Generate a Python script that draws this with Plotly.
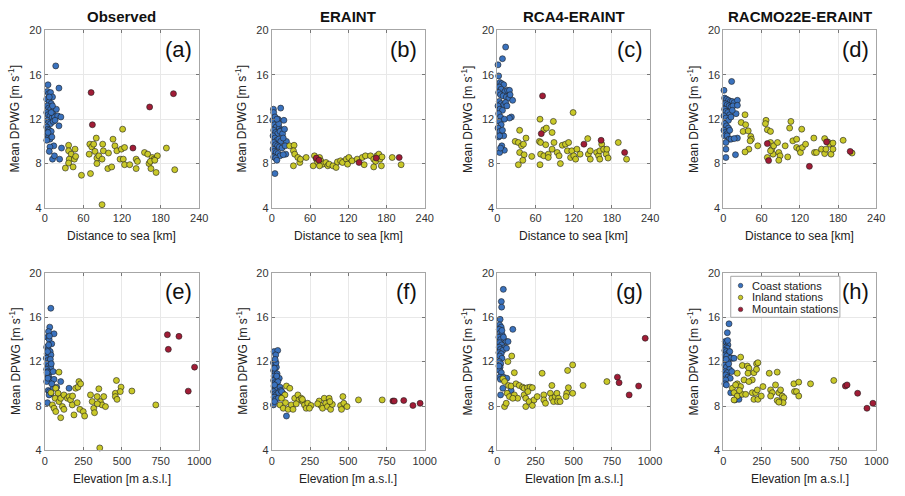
import plotly.graph_objects as go

# ---------------- data (x, y) pairs ----------------
# Top row: distance to sea [km]; bottom row: elevation [m a.s.l.]
a_coast = [(5,15.1),(17,16.8),(22,14.8),(4,14.5),(6,14.3),(9,14.4),(12,14.0),(3,13.8),(7,13.6),(10,13.4),
           (4,13.2),(6,13.0),(9,12.9),(13,12.7),(18,12.9),(3,12.6),(5,12.4),(8,12.3),(11,12.1),(15,12.2),
           (20,12.3),(25,12.2),(4,11.9),(6,11.7),(9,11.6),(13,11.8),(3,11.3),(5,11.1),(7,11.0),(10,10.9),
           (22,11.4),(4,10.6),(6,10.4),(8,10.2),(11,10.4),(3,10.1),(5,10.8),(14,9.6),(8,9.5),(7,9.1),
           (12,8.4),(15,8.7),(23,8.4),(26,9.4),(10,12.6),(16,11.9),(12,13.2),(7,14.0)]
a_inland = [(32,7.6),(37,9.65),(37,9.15),(41,8.85),(47,9.3),(38,8.4),(37,8.05),(46,8.4),(48,8.65),(44,7.7),
            (57,6.95),(69,8.85),(70,9.75),(73,9.5),(76,9.75),(80,10.3),(78,9.1),(81,8.5),(84,8.7),(81,8.0),
            (71,7.1),(90,9.75),(91,9.15),(89,8.4),(99,8.95),(98,7.55),(104,7.7),(106,10.2),(109,9.6),(112,9.15),
            (117,8.4),(119,9.3),(121,11.1),(122,8.4),(124,9.45),(124,7.9),(132,7.9),(142,8.4),(144,8.2),(142,7.55),
            (155,9.0),(160,8.85),(162,8.0),(165,7.55),(167,8.55),(170,8.4),(173,7.2),(175,8.7),(189,9.4),(202,7.45),
            (89,4.3),(164,8.2),(171,8.3)]
a_mount = [(72,14.4),(74,11.5),(137,9.4),(163,13.1),(200,14.3)]

b_coast = [(2.6,12.9),(3,12.6),(14,13.0),(1.5,11.9),(10,12.0),(19,11.9),(4,11.5),(7,11.3),(12,11.2),(15,11.0),
           (3,11.0),(6,10.8),(9,10.7),(13,10.9),(17,10.7),(2,10.5),(5,10.3),(8,10.1),(11,10.2),(14,10.0),
           (3,9.9),(6,9.7),(9,9.6),(12,9.5),(16,9.4),(2,9.3),(4,9.1),(7,9.0),(10,8.9),(13,8.7),
           (3,8.6),(6,8.5),(8,8.3),(23,10.0),(21,9.6),(22,8.85),(18,8.8),(5,7.1),(20,11.1),(18,10.3),
           (11,11.6),(5,12.2),(8,12.0)]
b_inland = [(28,9.6),(35,9.65),(34,9.15),(36,8.85),(34,7.8),(41,8.55),(44,8.1),(45,8.4),(54,8.55),(67,8.7),
            (70,8.4),(72,8.1),(75,8.55),(77,8.25),(80,7.95),(85,8.1),(88,7.8),(90,7.95),(96,7.8),(101,7.65),
            (103,8.15),(108,8.25),(111,8.1),(117,8.4),(119,7.95),(121,8.55),(126,8.25),(134,8.4),(142,8.55),(145,7.9),
            (147,8.7),(155,8.7),(160,8.4),(163,8.2),(160,7.7),(165,8.7),(168,8.85),(170,8.4),(172,7.8),(173,8.6),
            (189,8.55),(203,7.9),(65,7.8),(75,7.8)]
b_mount = [(70,8.5),(74,8.3),(137,8.1),(164,8.5),(200,8.55)]

c_coast = [(13,18.5),(8,17.45),(1,16.9),(2,15.9),(4,15.3),(7,15.2),(10,15.1),(3,14.9),(6,14.7),(12,14.5),
           (16,14.6),(19,14.6),(2,14.4),(5,14.2),(9,14.1),(14,14.0),(18,13.9),(24,13.7),(3,13.6),(6,13.4),
           (10,13.3),(13,13.5),(1,13.2),(4,12.9),(8,12.8),(2,12.5),(5,12.2),(22,12.2),(19,12.1),(3,11.8),
           (6,11.5),(1,11.2),(4,10.9),(7,10.6),(2,10.4),(10,10.5),(3.6,10.5),(11,9.2),(3.6,9.0),(7,9.6),
           (5,9.4),(8,11.0),(11,12.0),(15,13.2),(20,14.2)]
c_inland = [(28,10.0),(35,11.0),(33,9.9),(35,9.0),(33,7.9),(38,9.6),(41,9.75),(45,10.3),(42,8.8),(40,8.3),
            (54,8.65),(67,12.0),(66,10.0),(68,9.9),(68,8.85),(67,7.9),(73,11.05),(77,11.2),(76,9.7),(73,8.7),
            (80,8.85),(80,8.55),(86,10.8),(88,11.8),(89,9.9),(86,9.3),(94,9.0),(97,8.7),(99,8.0),(102,9.65),
            (107,9.75),(110,9.15),(112,9.9),(115,8.55),(117,9.15),(119,12.6),(120,8.7),(123,8.4),(125,9.3),(130,8.85),
            (142,10.25),(143,8.85),(146,8.4),(146,9.15),(156,9.0),(159,8.7),(161,9.15),(161,8.4),(164,9.75),(167,9.3),
            (171,8.85),(172,9.3),(174,8.5),(190,9.9),(203,8.4)]
c_mount = [(71,14.1),(69,10.7),(136,9.75),(163,10.1),(200,9.0)]

d_coast = [(13,15.4),(1,14.6),(2,13.9),(5,13.8),(8,13.7),(11,13.6),(14,13.6),(17,13.5),(22,13.7),(3,13.4),
           (6,13.3),(9,13.2),(12,13.1),(15,13.2),(22,13.25),(2,12.9),(4,12.7),(7,12.6),(10,12.4),(20,12.5),
           (1,12.3),(4,12.1),(8,11.9),(12,12.2),(2,11.6),(5,11.4),(8,11.2),(1,11.0),(3,10.8),(6,10.7),
           (2,10.5),(6,10.5),(9,10.2),(12,10.2),(22,10.3),(17,10.25),(4,9.9),(4,9.3),(4,8.55),(19,8.8),
           (10,11.0),(14,12.8)]
d_inland = [(34,12.4),(28,11.7),(31,10.9),(39,10.95),(35,11.5),(43,10.45),(44,10.2),(42,10.05),(40,9.3),(34,9.05),
            (54,9.6),(67,11.9),(66,11.6),(69,11.05),(74,10.9),(74,9.9),(76,9.3),(79,9.6),(78,8.85),(69,8.55),
            (85,9.9),(87,9.0),(89,8.7),(87,8.3),(97,9.6),(101,8.6),(104,11.2),(106,11.8),(109,10.05),(115,10.2),
            (115,9.45),(119,9.3),(121,9.0),(123,11.1),(124,9.45),(129,9.75),(142,10.3),(143,9.0),(146,9.0),(154,9.3),
            (159,10.25),(159,8.9),(161,9.3),(164,9.95),(167,9.75),(169,8.85),(172,9.3),(172,9.85),(188,10.1),(202,8.95),
            (74,9.15)]
d_mount = [(69,9.8),(71,8.27),(135,7.75),(162,9.95),(199,9.1)]

e_coast = [(39,16.8),(32,15.1),(24,14.7),(60,14.5),(17,14.2),(28,14.0),(45,13.6),(12,13.3),(22,13.1),(35,12.9),
           (15,12.7),(28,12.5),(40,12.6),(10,12.3),(20,12.1),(32,12.0),(14,11.8),(25,11.6),(38,11.5),(12,11.3),
           (20,11.1),(30,11.0),(54,11.1),(16,10.8),(26,10.6),(35,10.4),(48,10.3),(12,10.2),(20,10.5),(103,10.2),
           (60,10.4),(22,9.4),(30,9.3),(40,9.1),(77,9.7),(157,9.6),(55,9.6),(17,8.3),(28,9.0),(45,10.0),
           (18,12.9),(25,13.5),(30,14.3),(14,11.0),(36,12.2),(42,11.8)]
e_inland = [(92,11.05),(71,9.6),(86,9.15),(67,8.7),(49,8.1),(60,7.8),(71,7.5),(92,8.4),(103,8.7),(114,7.95),
            (124,7.7),(103,6.95),(124,9.0),(146,8.7),(157,8.85),(167,8.55),(178,8.1),(189,7.2),(200,9.6),(215,9.7),
            (221,10.2),(210,8.3),(227,7.7),(249,7.5),(258,7.1),(296,9.0),(307,8.4),(317,7.8),(322,7.4),(339,8.85),
            (350,9.55),(360,8.4),(371,8.1),(382,8.85),(393,7.95),(457,9.15),(457,8.85),(464,10.3),(468,8.6),(494,9.7),
            (489,9.3),(564,9.35),(719,8.1),(356,4.23),(232,10.0),(40,9.2),(180,8.9),(340,8.2)]
e_mount = [(794,14.42),(800,13.1),(869,14.27),(970,11.5),(929,9.34)]

f_coast = [(15,12.9),(39,13.0),(26,12.6),(11,11.9),(20,11.8),(30,11.5),(12,11.2),(22,11.0),(35,10.9),(15,10.7),
           (25,10.5),(49,10.5),(12,10.3),(20,10.1),(30,10.0),(40,10.2),(14,9.8),(24,9.6),(35,9.5),(54,9.7),
           (12,9.3),(20,9.1),(30,9.0),(45,9.2),(75,9.1),(15,8.8),(25,8.6),(43,8.7),(11,8.1),(18,8.4),
           (96,7.1),(60,9.4),(28,11.9),(17,11.4),(32,10.7),(22,12.2),(65,9.3),(18,9.9)]
f_inland = [(96,9.8),(118,9.6),(86,9.0),(64,8.7),(54,8.1),(75,7.8),(107,7.7),(128,8.1),(139,7.7),(150,8.7),
            (171,9.0),(178,8.55),(193,8.7),(203,8.4),(214,8.1),(225,7.8),(235,8.25),(257,8.05),(246,7.8),(310,8.45),
            (321,8.05),(332,7.8),(343,8.7),(353,8.25),(364,7.95),(375,8.7),(385,7.7),(396,8.15),(450,8.05),(456,7.7),
            (465,8.85),(471,8.25),(492,7.95),(567,8.55),(722,8.55),(90,8.3),(160,8.2),(200,8.6),(300,8.2),(380,8.4)]
f_mount = [(792,8.45),(801,8.45),(863,8.5),(923,8.05),(970,8.25)]

g_coast = [(39,18.5),(26,17.4),(28,16.9),(18,15.8),(15,15.3),(25,15.1),(12,14.9),(101,14.9),(20,14.6),(32,14.4),
           (10,14.2),(22,14.0),(58,13.8),(70,13.8),(15,13.7),(28,13.5),(12,13.3),(47,13.25),(20,13.1),(35,13.0),
           (10,12.8),(25,12.7),(15,12.5),(30,12.3),(12,12.0),(22,11.8),(18,11.5),(14,11.2),(26,11.0),(15,10.6),
           (20,10.4),(40,10.6),(21,9.0),(36,9.6),(90,9.4),(60,13.2),(40,14.2),(30,14.8),(10,11.6),(62,10.5)]
g_inland = [(94,12.5),(69,12.0),(111,11.0),(36,10.45),(47,10.2),(73,9.85),(90,9.8),(122,10.0),(143,9.85),(165,9.7),
            (175,9.6),(197,9.65),(214,9.7),(229,9.65),(64,9.15),(79,8.85),(111,9.0),(133,8.7),(101,8.7),(47,7.95),
            (58,8.25),(175,9.0),(186,8.7),(186,7.95),(208,8.4),(229,8.05),(240,8.55),(261,8.85),(293,10.95),(304,9.0),
            (304,8.55),(315,8.25),(347,9.15),(357,9.85),(357,8.7),(368,8.4),(379,8.85),(390,9.15),(400,8.7),(394,8.4),
            (411,8.4),(460,11.2),(493,11.7),(465,9.65),(454,9.15),(450,8.85),(493,9.15),(561,9.85),(717,10.2),(200,9.3)]
g_mount = [(786,10.6),(797,10.1),(863,9.0),(925,9.8),(968,14.1)]

h_coast = [(37,15.4),(26,14.6),(12,13.8),(20,13.7),(30,13.5),(15,13.3),(25,13.2),(10,13.0),(20,12.9),(35,12.8),
           (12,12.6),(22,12.5),(59,12.3),(45,12.3),(70,12.3),(15,12.1),(30,12.0),(10,11.7),(20,11.5),(40,11.3),
           (12,11.1),(25,11.0),(55,11.1),(15,10.8),(30,10.6),(45,10.5),(15,10.35),(10,10.0),(20,9.9),(48,9.2),
           (76,8.55),(102,8.6),(35,11.8),(18,12.2),(28,13.9),(42,12.9)]
h_inland = [(113,12.4),(124,11.65),(157,11.6),(167,11.4),(161,10.95),(200,11.0),(217,11.8),(226,11.9),(217,11.3),(189,10.35),
            (135,10.35),(167,10.2),(91,10.95),(91,10.0),(113,9.75),(59,9.6),(70,9.2),(91,8.9),(70,8.55),(124,9.05),
            (146,9.05),(189,9.2),(200,8.6),(211,9.2),(222,9.45),(226,8.6),(248,8.9),(259,9.75),(300,10.95),(309,9.45),
            (320,9.2),(309,8.9),(341,9.9),(352,11.05),(352,8.5),(363,9.2),(374,9.45),(385,8.9),(396,8.75),(391,8.3),
            (363,8.35),(461,10.0),(465,9.3),(478,9.3),(493,10.15),(493,8.9),(570,10.0),(722,10.3),(80,9.9),(105,9.4)]
h_mount = [(798,9.8),(809,9.9),(878,9.15),(939,7.8),(978,8.25)]

panel_titles = ["Observed", "ERAINT", "RCA4-ERAINT", "RACMO22E-ERAINT"]
panel_letters = ["(a)", "(b)", "(c)", "(d)", "(e)", "(f)", "(g)", "(h)"]
x_titles = ["Distance to sea [km]", "Elevation [m a.s.l.]"]
y_title = "Mean DPWG [m s<sup>-1</sup>]"
dist_ticks = [0, 60, 120, 180, 240]
elev_ticks = [0, 250, 500, 750, 1000]
y_ticks = [4, 8, 12, 16, 20]
series_names = ["Coast stations", "Inland stations", "Mountain stations"]

panels = [
    (a_coast, a_inland, a_mount), (b_coast, b_inland, b_mount),
    (c_coast, c_inland, c_mount), (d_coast, d_inland, d_mount),
    (e_coast, e_inland, e_mount), (f_coast, f_inland, f_mount),
    (g_coast, g_inland, g_mount), (h_coast, h_inland, h_mount),
]

# ---------------- styling ----------------
W, H = 905, 496
FONT = "Liberation Sans, Arial, Helvetica, sans-serif"
colors = ["#3a72be", "#c9c828", "#a11c36"]
col_px = [(42.5, 199.5), (273.3, 428.8), (502.7, 658.0), (732.5, 888.0)]
row_px = [(25.0, 207.0), (273.3, 455.5)]

fig = go.Figure()
layout = {}
annotations = []
shapes = []

for i, data in enumerate(panels):
    r, c = divmod(i, 4)
    n = i + 1
    xa = "x" if n == 1 else f"x{n}"
    ya = "y" if n == 1 else f"y{n}"
    for k, pts in enumerate(data):
        fig.add_trace(go.Scatter(
            x=[p[0] for p in pts], y=[p[1] for p in pts],
            mode="markers", xaxis=xa, yaxis=ya,
            name=series_names[k], showlegend=False, cliponaxis=False,
            marker=dict(size=6, color=colors[k], line=dict(width=0.6, color="#1e1e1e")),
        ))
    x0, x1 = col_px[c]
    y0, y1 = row_px[r]
    ticks = dist_ticks if r == 0 else elev_ticks
    common = dict(showline=True, linecolor="#a6a6a6", linewidth=1, mirror="ticks",
                  ticks="inside", ticklen=3, tickcolor="#777777", showgrid=True,
                  gridcolor="#e8e8e8", gridwidth=1, zeroline=False,
                  tickfont=dict(family=FONT, size=11, color="#333333"))
    layout["xaxis" if n == 1 else f"xaxis{n}"] = dict(
        domain=[x0 / W, x1 / W], anchor=ya, range=[ticks[0], ticks[-1]],
        tickvals=ticks, **common)
    layout["yaxis" if n == 1 else f"yaxis{n}"] = dict(
        domain=[1 - y1 / H, 1 - y0 / H], anchor=xa, range=[4, 20],
        tickvals=y_ticks, **common)
    annotations.append(dict(text=panel_letters[i], xref=f"{xa} domain", yref=f"{ya} domain",
                            x=0.965, y=0.975, xanchor="right", yanchor="top", showarrow=False,
                            font=dict(family=FONT, size=22, color="#111111")))
    annotations.append(dict(text=x_titles[r], xref="paper", yref="paper",
                            x=(x0 + x1) / 2 / W, y=1 - (y1 + 29) / H, xanchor="center",
                            yanchor="middle", showarrow=False,
                            font=dict(family=FONT, size=12, color="#222222")))
    annotations.append(dict(text=y_title, xref="paper", yref="paper",
                            x=(x0 - 31) / W, y=1 - (y0 + y1) / 2 / H, xanchor="center",
                            yanchor="middle", textangle=-90, showarrow=False,
                            font=dict(family=FONT, size=12, color="#222222")))
    if r == 0:
        annotations.append(dict(text=f"<b>{panel_titles[c]}</b>", xref="paper", yref="paper",
                                x=(x0 + x1) / 2 / W, y=1 - 11 / H, xanchor="center",
                                yanchor="middle", showarrow=False,
                                font=dict(family=FONT, size=15, color="#111111")))

# ---------------- compact legend in panel (h) ----------------
LX0, LX1, LY0, LY1 = 740, 851, 277, 319
shapes.append(dict(type="rect", xref="paper", yref="paper", x0=LX0 / W, x1=LX1 / W,
                   y0=1 - LY1 / H, y1=1 - LY0 / H, fillcolor="white",
                   line=dict(color="#a6a6a6", width=1), layer="above"))
for k, name in enumerate(series_names):
    cy = LY0 + 9.5 + 12.2 * k
    cx = 750
    rr = 2.3
    shapes.append(dict(type="circle", xref="paper", yref="paper",
                       x0=(cx - rr) / W, x1=(cx + rr) / W, y0=1 - (cy + rr) / H, y1=1 - (cy - rr) / H,
                       fillcolor=colors[k], line=dict(color="#1e1e1e", width=0.5), layer="above"))
    annotations.append(dict(text=name, xref="paper", yref="paper", x=760 / W, y=1 - cy / H,
                            xanchor="left", yanchor="middle", showarrow=False,
                            font=dict(family=FONT, size=11, color="#222222")))

fig.update_layout(
    width=W, height=H, margin=dict(l=0, r=0, t=0, b=0),
    paper_bgcolor="white", plot_bgcolor="white",
    annotations=annotations, shapes=shapes, showlegend=False,
    **layout,
)

fig.write_html("out.html", config={"displayModeBar": False},
               post_script="document.body.style.margin='0px';")
